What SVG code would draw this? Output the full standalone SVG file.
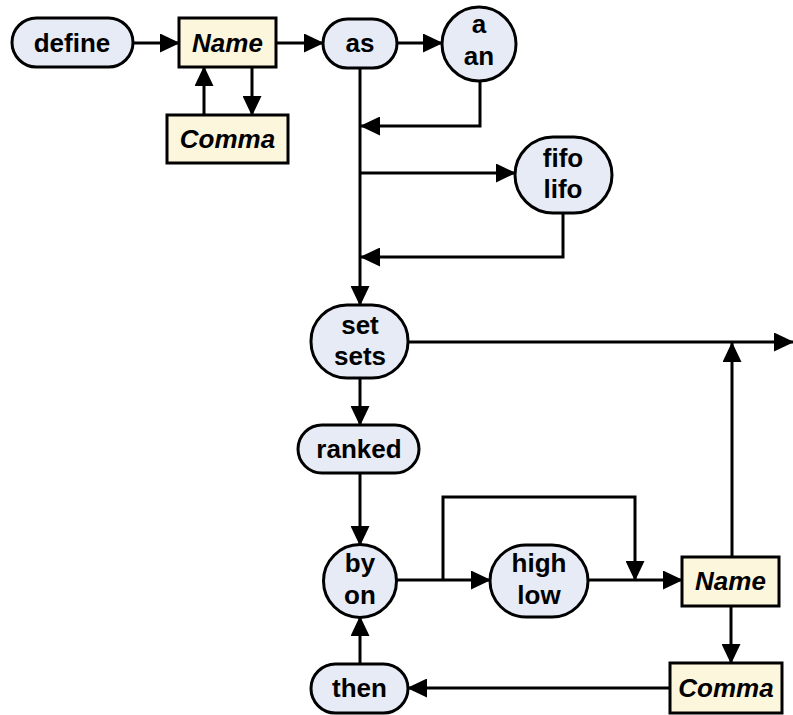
<svg xmlns="http://www.w3.org/2000/svg" width="793" height="715" viewBox="0 0 793 715">
  <style>
    .kw { fill: #e6ebf6; stroke: #000; stroke-width: 3; }
    .ref { fill: #fcf6dc; stroke: #000; stroke-width: 3; }
    text { font-family: "Liberation Sans", Arial, sans-serif; font-size: 26px; font-weight: bold; text-anchor: middle; fill: #000; }
    .it { font-style: italic; }
    .edge { fill: none; stroke: #000; stroke-width: 3; marker-end: url(#arrow); }
  </style>
  <defs>
    <marker id="arrow" markerUnits="userSpaceOnUse" markerWidth="20" markerHeight="19" viewBox="0 0 20 19" refX="19" refY="9.5" orient="auto">
      <path d="M0,0 L20,9.5 L0,19 z" fill="#000"/>
    </marker>
  </defs>

  <g id="connectors">
    <path class="edge" d="M133,43 H179"/>
    <path class="edge" d="M276,43 H323"/>
    <path class="edge" d="M397,43 H442"/>
    <path class="edge" d="M252,67 V115"/>
    <path class="edge" d="M204,115 V67"/>
    <path class="edge" d="M360,68 V305"/>
    <path class="edge" d="M480,81 V126 H361"/>
    <path class="edge" d="M360,173 H515"/>
    <path class="edge" d="M563,213 V257 H361"/>
    <path class="edge" d="M408,342 H793"/>
    <path class="edge" d="M732,557 V343"/>
    <path class="edge" d="M360,378 V425"/>
    <path class="edge" d="M360,473 V545"/>
    <path class="edge" d="M396,580 H490"/>
    <path class="edge" d="M443,580 V497 H635 V580"/>
    <path class="edge" d="M588,580 H682"/>
    <path class="edge" d="M731,606 V663"/>
    <path class="edge" d="M670,688 H408"/>
    <path class="edge" d="M360,664 V617"/>
  </g>

  <g id="define">
    <rect class="kw" x="12" y="18" width="121" height="49" rx="24.5"/>
    <text x="72" y="52">define</text>
  </g>
  <g id="name1">
    <rect class="ref" x="179" y="18" width="97" height="49"/>
    <text class="it" x="227.5" y="52">Name</text>
  </g>
  <g id="comma1">
    <rect class="ref" x="167" y="115" width="121" height="48"/>
    <text class="it" x="227.5" y="148">Comma</text>
  </g>
  <g id="as">
    <rect class="kw" x="323" y="19" width="74" height="49" rx="24.5"/>
    <text x="360" y="52">as</text>
  </g>
  <g id="a-an">
    <circle class="kw" cx="479" cy="44" r="37"/>
    <text x="479" y="33">a</text>
    <text x="479" y="65">an</text>
  </g>
  <g id="fifo-lifo">
    <rect class="kw" x="515" y="137" width="97" height="76" rx="38"/>
    <text x="563" y="167">fifo</text>
    <text x="563" y="198">lifo</text>
  </g>
  <g id="set-sets">
    <rect class="kw" x="311" y="305" width="97" height="73" rx="36"/>
    <text x="360" y="334">set</text>
    <text x="360" y="365">sets</text>
  </g>
  <g id="ranked">
    <rect class="kw" x="298" y="425" width="121" height="48" rx="24"/>
    <text x="359" y="458">ranked</text>
  </g>
  <g id="by-on">
    <circle class="kw" cx="360" cy="581" r="36.5"/>
    <text x="360" y="572">by</text>
    <text x="360" y="604">on</text>
  </g>
  <g id="high-low">
    <rect class="kw" x="490" y="545" width="98" height="72" rx="36"/>
    <text x="539" y="572">high</text>
    <text x="539" y="604">low</text>
  </g>
  <g id="name2">
    <rect class="ref" x="682" y="557" width="97" height="49"/>
    <text class="it" x="730.5" y="590">Name</text>
  </g>
  <g id="comma2">
    <rect class="ref" x="670" y="663" width="112" height="50"/>
    <text class="it" x="726" y="697">Comma</text>
  </g>
  <g id="then">
    <rect class="kw" x="311" y="664" width="97" height="49" rx="24.5"/>
    <text x="359.5" y="697">then</text>
  </g>
</svg>
